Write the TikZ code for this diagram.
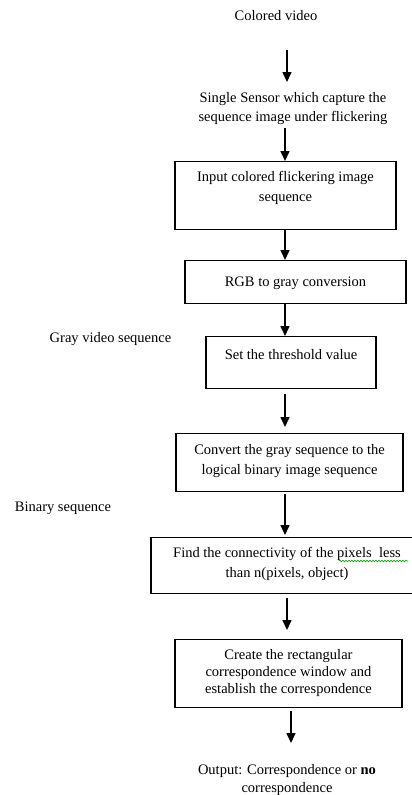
\documentclass[tikz,border=0pt]{standalone}
\usepackage{fontspec}
\setmainfont{Liberation Serif}
\usetikzlibrary{arrows.meta,decorations.pathmorphing}
\begin{document}
\begin{tikzpicture}[x=1pt,y=-1pt,
  lbl/.style={inner sep=0pt, align=center, font=\fontsize{14.5}{19}\selectfont},
  stepbox/.style={draw, line width=1.2pt, inner xsep=0pt, inner ysep=0pt, align=center,
     anchor=north, font=\fontsize{14.5}{20}\selectfont},
  arr/.style={line width=1.6pt, -{Triangle[length=10pt,width=9pt]}},
  squiggle/.style={draw=green!60!black, line width=0.6pt, decorate,
     decoration={snake, amplitude=0.8pt, segment length=3pt}}]
\clip (0,0) rectangle (412,795);
\fill[white] (0,0) rectangle (412,795);
% column positions for the arrows
\coordinate (xa) at (285,0);
\coordinate (xb) at (287,0);
\coordinate (xc) at (291,0);
% free texts
\node[lbl, anchor=north, text height=10pt, text depth=3pt] (t0) at (276,10) {Colored video};
\node[lbl, anchor=north, text height=29pt, text depth=4pt] (t1) at (293,92)
  {Single Sensor which capture the\\sequence image under flickering};
\node[lbl, anchor=base] (tgray) at (110.5,342) {Gray video sequence};
\node[lbl, anchor=base] (tbin) at (63,511) {Binary sequence};
\node[lbl, anchor=north, text height=28pt, text depth=3pt, font=\fontsize{14.5}{18}\selectfont] (tout) at (287,764)
  {Output: Correspondence or \textbf{no}\\correspondence};
% boxes
\node[stepbox, minimum width=221pt, text height=40pt, text depth=28pt] (b1) at (285.5,161)
  {Input colored flickering image\\sequence};
\node[stepbox, minimum width=221pt, text height=26pt, text depth=17pt] (b2) at (295.5,260)
  {RGB to gray conversion};
\node[stepbox, minimum width=170pt, text height=23pt, text depth=29pt] (b3) at (291,336)
  {Set the threshold value};
\node[stepbox, minimum width=227pt, text height=41pt, text depth=17pt] (b4) at (289.5,433)
  {Convert the gray sequence to the\\logical binary image sequence};
\node[stepbox, minimum width=272pt, text height=40pt, text depth=16pt] (b5) at (287,537)
  {Find the connectivity of the pixels\ \ less\\than n(pixels, object)};
\node[stepbox, minimum width=227pt, text height=54pt, text depth=14pt, font=\fontsize{14.5}{17}\selectfont] (b6) at (288.5,639)
  {Create the rectangular\\correspondence window and\\establish the correspondence};
% spell-check underline
\path[squiggle] (339,561) -- (408,561);
% arrows
\draw[arr, shorten <=27pt, shorten >=10pt] (t0.south -| xb) -- (t1.north -| xb);
\draw[arr, shorten <=3pt] (t1.south -| xa) -- (b1.north -| xa);
\draw[arr] (b1.south -| xa) -- (b2.north -| xa);
\draw[arr] (b2.south -| xa) -- (b3.north -| xa);
\draw[arr, shorten <=5pt, shorten >=6pt] (b3.south -| xa) -- (b4.north -| xa);
\draw[arr, shorten <=2pt, shorten >=2pt] (b4.south -| xa) -- (b5.north -| xa);
\draw[arr, shorten <=4pt, shorten >=9pt] (b5.south -| xb) -- (b6.north -| xb);
\draw[arr, shorten <=3pt, shorten >=21pt] (b6.south -| xc) -- (tout.north -| xc);
\end{tikzpicture}
\end{document}
